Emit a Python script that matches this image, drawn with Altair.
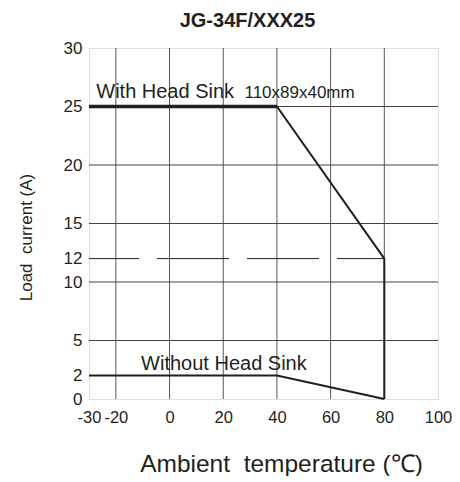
import altair as alt
import pandas as pd

# ---- data ----
with_temp = [-30, 40, 80, 80]
with_current = [25, 25, 12, 0]
without_temp = [-30, 40, 80]
without_current = [2, 2, 0]

x_ticks = [-30, -20, 0, 20, 40, 60, 80, 100]
y_ticks = [0, 2, 5, 10, 12, 15, 20, 25, 30]
x_grid = [-20, 0, 20, 40, 60, 80]
y_grid = [5, 10, 15, 20, 25]

dash_level = 12
dash_from, dash_to = -30, 80

labels_text = ["With Head Sink", "110x89x40mm", "Without Head Sink"]
labels_temp = [-27.3, 27.9, -10.6]
labels_current = [25.7, 25.7, 2.45]
labels_size = [20, 17, 20]

INK = "#231f20"
FONT = "Liberation Sans"

xs = alt.Scale(domain=[-30, 100], nice=False, zero=False)
ys = alt.Scale(domain=[0, 30], nice=False, zero=False)

with_df = pd.DataFrame({"t": with_temp, "c": with_current, "o": range(len(with_temp))})
without_df = pd.DataFrame({"t": without_temp, "c": without_current, "o": range(len(without_temp))})
xg_df = pd.DataFrame({"t": x_grid})
yg_df = pd.DataFrame({"c": y_grid})
dash_df = pd.DataFrame({"t": [dash_from], "t2": [dash_to], "c": [dash_level]})
lab_df = pd.DataFrame({"txt": labels_text, "t": labels_temp, "c": labels_current, "s": labels_size})

base_x = alt.X("t:Q", scale=xs, axis=alt.Axis(
    values=x_ticks, grid=False, ticks=False, domain=False, labelFont=FONT,
    labelFontSize=16.5, labelColor=INK, labelPadding=10, labelFlush=False,
    labelOverlap=False, labelExpr="'' + datum.value",
    title="Ambient\u00a0\u00a0temperature (\u2103)", titleFont=FONT, titleFontSize=24.5,
    titleFontWeight="normal", titleColor=INK, titleX=192, titleY=72,
    titleAlign="center", titleBaseline="alphabetic"))
base_y = alt.Y("c:Q", scale=ys, axis=alt.Axis(
    values=y_ticks, grid=False, ticks=False, domain=False, labelFont=FONT,
    labelFontSize=17, labelColor=INK, labelPadding=7, labelOverlap=False,
    labelFlush=False,
    title="Load\u00a0\u00a0current (A)", titleFont=FONT, titleFontSize=17,
    titleFontWeight="normal", titleColor=INK, titleX=-63, titleY=189,
    titleAlign="center", titleBaseline="middle", titleAngle=-90))

xgrid = alt.Chart(xg_df).mark_rule(color="#555", strokeWidth=1).encode(
    x=alt.X("t:Q", scale=xs))
ygrid = alt.Chart(yg_df).mark_rule(color="#444", strokeWidth=1).encode(
    y=alt.Y("c:Q", scale=ys))
dash = alt.Chart(dash_df).mark_rule(color=INK, strokeWidth=1, strokeDash=[72, 18],
                                     strokeDashOffset=22).encode(
    x=alt.X("t:Q", scale=xs), x2="t2:Q", y=alt.Y("c:Q", scale=ys))

with_line = alt.Chart(with_df).mark_line(color=INK, strokeWidth=2).encode(
    x=base_x, y=base_y, order="o:O")
with_thick = alt.Chart(with_df.iloc[:2]).mark_line(color=INK, strokeWidth=3.5).encode(
    x=alt.X("t:Q", scale=xs), y=alt.Y("c:Q", scale=ys), order="o:O")
without_line = alt.Chart(without_df).mark_line(color=INK, strokeWidth=2).encode(
    x=alt.X("t:Q", scale=xs), y=alt.Y("c:Q", scale=ys), order="o:O")

labels = alt.Chart(lab_df).mark_text(align="left", baseline="alphabetic", font=FONT,
                                     color=INK).encode(
    x=alt.X("t:Q", scale=xs), y=alt.Y("c:Q", scale=ys), text="txt:N",
    size=alt.Size("s:Q", scale=None, legend=None))

chart = alt.layer(xgrid, ygrid, dash, with_line, with_thick, without_line, labels).properties(
    width=349, height=351,
    title=alt.TitleParams("JG-34F/XXX25", font=FONT, fontSize=20, fontWeight="bold",
                          color=INK, anchor="middle", dx=-16, offset=8),
    autosize=alt.AutoSizeParams(type="none"),
    padding={"left": 81, "top": 40, "right": 14, "bottom": 77},
).configure_view(stroke="#333", strokeWidth=1.2).configure(background="white")

chart.save("out.html", embed_options={"renderer": "svg", "actions": False})
